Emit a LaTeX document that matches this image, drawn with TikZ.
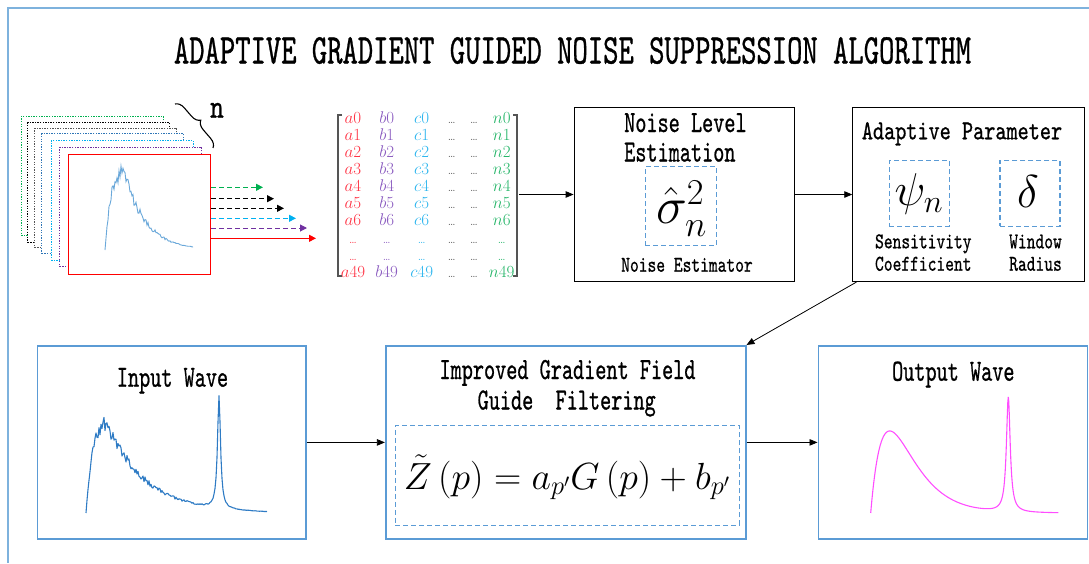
\RequirePackage{fix-cm}
\documentclass[tikz,border=0pt]{standalone}
\usepackage{fontspec}
\usepackage{graphicx}
\usetikzlibrary{arrows.meta,decorations.pathreplacing,calc}
\newfontfamily\labelfont{lmmono10-regular.otf}[FakeBold=0.9]
\definecolor{frameblue}{HTML}{7EB2DD}
\definecolor{boxblue}{HTML}{5B9BD5}
\definecolor{waveblue}{HTML}{2E7BC4}
\definecolor{lightwave}{HTML}{6AA8DA}
\definecolor{outpink}{HTML}{FF4DFF}
\definecolor{matred}{HTML}{FF3344}
\definecolor{matpurple}{HTML}{8B5CC0}
\definecolor{matcyan}{HTML}{2CB5EE}
\definecolor{matgreen}{HTML}{22B466}
\definecolor{matgray}{HTML}{555555}
\definecolor{arrgreen}{HTML}{00B050}
\definecolor{arrcyan}{HTML}{00B0F0}
\definecolor{arrpurple}{HTML}{7030A0}
\definecolor{stackblue}{HTML}{2E75B6}
\newcommand{\tall}[2][1.45]{\scalebox{1}[#1]{#2}}
\tikzset{
  flow/.style={line width=0.8pt,-{Triangle[length=8pt,width=6.5pt]}},
  topbox/.style={draw=black,line width=0.9pt,inner sep=0pt,minimum height=174.4pt},
  lowbox/.style={draw=boxblue,line width=1.6pt,inner sep=0pt,minimum height=193.3pt},
  dashbox/.style={draw=boxblue,line width=1.1pt,dash pattern=on 5pt off 3pt,inner sep=0pt},
  midtext/.style={font=\labelfont\fontsize{21.2}{22}\selectfont,anchor=base,inner sep=0pt},
  smalltext/.style={font=\labelfont\fontsize{16.7}{17}\selectfont,anchor=base,inner sep=0pt},
  layer/.style={anchor=north west,fill=white,minimum width=142pt,minimum height=119.5pt,inner sep=0pt,line width=1pt,dash pattern=on 1.3pt off 1.3pt},
  mcell/.style={font=\fontsize{17}{18}\selectfont,anchor=base,inner sep=0pt},
  dotcell/.style={font=\fontsize{12}{12}\selectfont,anchor=base,inner sep=0pt},
  arrdash/.style={dash pattern=on 5pt off 3pt},
}
\begin{document}
\begin{tikzpicture}[x=1pt,y=-1pt]
\useasboundingbox (0,0) rectangle (1089,563);
\draw[frameblue,line width=2pt] (1089,8) -- (8,8) -- (8,563);
\node[inner sep=0pt,anchor=base,font=\labelfont\fontsize{29.2}{30}\selectfont] (title) at (572.5,63.5) {\tall{ADAPTIVE GRADIENT GUIDED NOISE SUPPRESSION ALGORITHM}};

\foreach \lx/\ly/\clr [count=\k] in {20.7/115.7/arrgreen, 27.3/122.3/black, 34.3/127.7/matgray, 41.3/133.3/stackblue, 50.7/140/arrcyan, 59.3/146.7/arrpurple}
  \node[layer,draw=\clr] (layer\k) at (\lx,\ly) {};
\node[layer,draw=red,solid] (layer7) at (68.3,154.3) {};
\pgfmathsetseed{5}
\draw[lightwave,line width=0.9pt] plot[domain=105:193,samples=89] (\x,{250-84*(1-exp(-(\x-105)/6))*exp(-max(\x-123,0)/21)*(1+0.1*rand)});
\draw[decorate,decoration={brace,amplitude=9pt},line width=1.1pt] (175,104) -- (213,148);
\node[inner sep=0pt,anchor=base,font=\labelfont\fontsize{26}{26}\selectfont] (nlabel) at (217,117.7) {\tall[1.3]{n}};
\foreach \yy/\xe/\clr/\pat [count=\k] in {187.3/263/arrgreen/arrdash, 198.7/274/black/arrdash, 208.3/284/black/arrdash, 218.3/296/arrcyan/arrdash, 228/307/arrpurple/arrdash, 238.3/316/red/solid}{
  \coordinate (tip\k) at (\xe,\yy);
  \draw[\clr,\pat,line width=1pt,-{Triangle[length=7pt,width=7pt]}] (layer7.east |- tip\k) -- (tip\k);
}

\foreach \cx/\ch/\clr in {353/a/matred, 386.7/b/matpurple, 421.7/c/matcyan, 501.7/n/matgreen}{
  \foreach \r in {0,...,6}
    \node[mcell,text=\clr] (m\ch\r) at (\cx,{123.3+17.1*\r}) {$\ch\r$};
  \foreach \r in {7,8}
    \node[dotcell,text=\clr] (m\ch\r) at (\cx,{123.3+17.1*\r}) {\ldots};
  \node[mcell,text=\clr] (m\ch9) at (\cx,277.2) {$\ch49$};
}
\foreach \cx/\ch in {451.7/x,474/y}
  \foreach \r in {0,...,9}
    \node[dotcell,text=matgray] (m\ch\r) at (\cx,{123.3+17.1*\r}) {\ldots};
\draw[matgray,line width=1.8pt] (342,115) -- (338,115) -- (338,276) -- (342,276);
\draw[matgray,line width=1.8pt] (513,115) -- (517,115) -- (517,276) -- (513,276);
\coordinate (matR) at (519,194.4);

\node[topbox,minimum width=220.3pt] (noise) at (684.2,194.5) {};
\node[midtext,anchor=base west] (noiseA) at (624,132) {\tall{Noise Level}};
\node[midtext,anchor=base west] (noiseB) at (624,161.5) {\tall{Estimation}};
\node[dashbox,minimum width=71.7pt,minimum height=78.3pt] (sigbox) at (680.9,205.9) {};
\node[inner sep=0pt,anchor=base,font=\fontsize{52}{52}\selectfont] (sigma) at (681.5,223.3) {$\hat{\sigma}_n^2$};
\node[smalltext] (estim) at (687,271.7) {\tall[1.35]{Noise Estimator}};

\node[topbox,minimum width=231.3pt] (adapt) at (968.4,194.5) {};
\node[midtext] (adaptT) at (962,139.3) {\tall[1.3]{Adaptive Parameter}};
\node[dashbox,minimum width=60pt,minimum height=65.3pt] (psibox) at (919.3,193.4) {};
\node[dashbox,minimum width=60pt,minimum height=65.3pt] (delbox) at (1030,193.4) {};
\node[inner sep=0pt,font=\fontsize{46}{46}\selectfont] (psi) at (919,194) {$\psi_n$};
\node[inner sep=0pt,font=\fontsize{46}{46}\selectfont] (delta) at (1028,192) {$\delta$};
\node[smalltext] (sensA) at (923.3,248.3) {\tall[1.35]{Sensitivity}};
\node[smalltext] (sensB) at (923.3,270.7) {\tall[1.35]{Coefficient}};
\node[smalltext] (winA) at (1035.5,248.3) {\tall[1.35]{Window}};
\node[smalltext] (winB) at (1035.5,270.7) {\tall[1.35]{Radius}};

\node[lowbox,minimum width=268.7pt] (input) at (171.7,442.4) {};
\node[midtext] (inputT) at (172.5,386.7) {\tall{Input Wave}};
\pgfmathsetseed{11}
\draw[waveblue,line width=1.1pt,line join=round] plot[domain=86:267,samples=182] (\x,{513-98*(1-exp(-(\x-86)/7))*exp(-max(\x-104,0)/38)*(1+0.09*rand)-113/(1+((\x-219)/1.8)^2)});

\node[lowbox,minimum width=360pt] (filter) at (565.7,442.4) {};
\node[midtext] (filterA) at (567.5,379) {\tall{Improved Gradient Field}};
\node[midtext] (filterB) at (566.7,409.5) {\tall{Guide\ \ Filtering}};
\node[dashbox,minimum width=344.3pt,minimum height=99.3pt] (formbox) at (567.2,475.4) {};
\node[inner sep=0pt,anchor=base,font=\fontsize{37.8}{38}\selectfont] (formula) at (567,489.3) {$\tilde{Z}\left(p\right)=a_{p'}G\left(p\right)+b_{p'}$};

\node[lowbox,minimum width=269pt] (output) at (952.8,442.4) {};
\node[midtext] (outputT) at (953.3,380.7) {\tall{Output Wave}};
\draw[outpink,line width=1.1pt] plot[domain=870.7:1058.3,samples=376] (\x,{513-82*((\x-870.7)/19)*exp(1-(\x-870.7)/19)-115/(1+((\x-1008.3)/2.3)^2)});

\draw[flow] (matR) -- (noise.west);
\draw[flow] (noise.east) -- (adapt.west);
\draw[flow] ($(adapt.south west)+(4,0)$) -- (filter.north east);
\draw[flow] (input.east) -- (filter.west);
\draw[flow] (filter.east) -- (output.west);
\end{tikzpicture}
\end{document}
